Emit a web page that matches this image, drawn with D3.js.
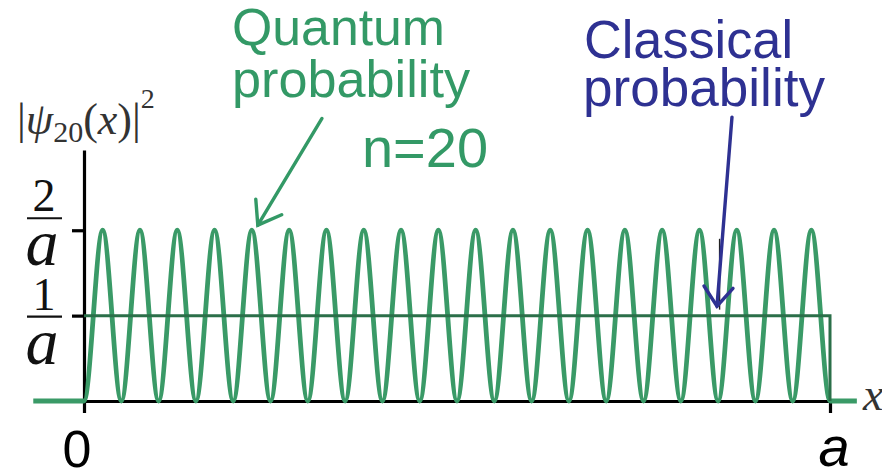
<!DOCTYPE html>
<html>
<head>
<meta charset="utf-8">
<script src="https://cdn.jsdelivr.net/npm/d3@7"></script>
<style>
  html, body { margin: 0; padding: 0; background: #fff; }
  svg { display: block; }
</style>
</head>
<body>
<svg id="chart" width="882" height="472"></svg>
<script>
// Position x in units of a (well spans 0..a), probability density in units of 1/a.
// Quantum probability |psi_20|^2: nodes and peaks of the n = 20 state,
// with the flat zero outside the well at both ends.
const quantumX = [-0.068,
  0, 0.025, 0.05, 0.075, 0.1, 0.125, 0.15, 0.175, 0.2, 0.225,
  0.25, 0.275, 0.3, 0.325, 0.35, 0.375, 0.4, 0.425, 0.45, 0.475,
  0.5, 0.525, 0.55, 0.575, 0.6, 0.625, 0.65, 0.675, 0.7, 0.725,
  0.75, 0.775, 0.8, 0.825, 0.85, 0.875, 0.9, 0.925, 0.95, 0.975,
  1, 1.036];
const quantumY = [0,
  0, 2, 0, 2, 0, 2, 0, 2, 0, 2,
  0, 2, 0, 2, 0, 2, 0, 2, 0, 2,
  0, 2, 0, 2, 0, 2, 0, 2, 0, 2,
  0, 2, 0, 2, 0, 2, 0, 2, 0, 2,
  0, 0];

// Classical probability: uniform 1/a inside the well
const classicalX = [0, 1, 1];
const classicalY = [1, 1, 0];

// Axis ticks
const yTickValues = [1, 2];
const yTickNumerators = ["1", "2"];
const xTickValues = [0, 1];
const xTickLabels = ["0", "a"];

const svg = d3.select("#chart");

const x = d3.scaleLinear().domain([0, 1]).range([84, 830]);
const y = d3.scaleLinear().domain([0, 2.94]).range([401, 150]);

const green = "#3a9a67";
const darkGreen = "#2b6f49";
const blue = "#2e3192";

// Axes
const yAxis = d3.axisLeft(y).tickValues(yTickValues).tickSize(12).tickSizeOuter(0).tickFormat("");
const gy = svg.append("g").attr("transform", `translate(${x(0)},0)`).call(yAxis);
const xAxis = d3.axisBottom(x).tickValues(xTickValues).tickSize(12).tickSizeOuter(0).tickFormat("");
const gx = svg.append("g").attr("transform", `translate(0,${y(0)})`).call(xAxis);
[gy, gx].forEach(g => {
  g.selectAll("path.domain").attr("stroke", "#000").attr("stroke-width", 3.2);
  g.selectAll(".tick line").attr("stroke", "#000").attr("stroke-width", 3.2);
});

// Fraction tick labels on the y axis (k / a)
const fracShift = [1, -12];
yTickValues.forEach((v, i) => {
  const barY = y(v) + fracShift[i];
  const g = svg.append("g").attr("fill", "#111").attr("font-family", "'Liberation Serif', 'DejaVu Serif', serif");
  g.append("line").attr("x1", 27).attr("x2", 62).attr("y1", barY).attr("y2", barY)
    .attr("stroke", "#111").attr("stroke-width", 2.2);
  g.append("text").attr("x", 44).attr("y", barY - 7).attr("text-anchor", "middle")
    .attr("font-size", 46).text(yTickNumerators[i]);
  g.append("text").attr("x", 42).attr("y", barY + 47).attr("text-anchor", "middle")
    .attr("font-size", 66).attr("font-style", "italic").text("a");
});

// x tick labels
svg.append("text").attr("x", x(xTickValues[0]) - 7).attr("y", 467).attr("text-anchor", "middle")
  .attr("font-family", "'Liberation Sans', Arial, sans-serif").attr("font-size", 52).attr("fill", "#000")
  .text(xTickLabels[0]);
svg.append("text").attr("x", x(xTickValues[1]) + 4).attr("y", 466).attr("text-anchor", "middle")
  .attr("font-family", "'Liberation Sans', Arial, sans-serif").attr("font-size", 56).attr("font-style", "italic")
  .attr("fill", "#000").text(xTickLabels[1]);

// Axis titles
svg.append("text").attr("x", 863).attr("y", 410)
  .attr("font-family", "'Liberation Serif', 'DejaVu Serif', serif").attr("font-size", 46)
  .attr("font-style", "italic").attr("fill", "#333").text("x");

const yt = svg.append("text").attr("x", 17).attr("y", 134)
  .attr("font-family", "'Liberation Serif', 'DejaVu Serif', serif").attr("font-size", 44).attr("fill", "#333");
yt.append("tspan").text("|");
yt.append("tspan").attr("font-style", "italic").text("ψ");
yt.append("tspan").attr("font-size", 30).attr("dy", 8).text("20");
yt.append("tspan").attr("dy", -8).text("(");
yt.append("tspan").attr("font-style", "italic").text("x");
yt.append("tspan").text(")|");
yt.append("tspan").attr("font-size", 28).attr("dy", -26).text("2");

// Quantum probability curve
const qLine = d3.line()
  .x((d, i) => x(quantumX[i]))
  .y(d => y(d))
  .curve(d3.curveMonotoneX);
svg.append("path").datum(quantumY).attr("d", qLine)
  .attr("fill", "none").attr("stroke", green).attr("stroke-width", 4.8)
  .attr("stroke-linejoin", "round");

// Classical probability (uniform)
const cLine = d3.line().x((d, i) => x(classicalX[i])).y(d => y(d));
svg.append("path").datum(classicalY).attr("d", cLine)
  .attr("fill", "none").attr("stroke", darkGreen).attr("stroke-width", 3);

// Annotation text
const sans = "'Liberation Sans', Arial, sans-serif";
function label(txt, px, py, size, len, color) {
  svg.append("text").attr("x", px).attr("y", py).attr("font-family", sans)
    .attr("font-size", size).attr("fill", color)
    .attr("textLength", len).attr("lengthAdjust", "spacingAndGlyphs").text(txt);
}
label("Quantum", 232, 45, 52, 213, "#339966");
label("probability", 232, 97, 52, 238, "#339966");
label("n=20", 362, 167, 56, 126, "#339966");
label("Classical", 584, 58, 54, 209, blue);
label("probability", 583, 106, 54, 242, blue);

// Arrows pointing at the curves
function arrow(x0, y0, x1, y1, color, head, spread) {
  const [ax, ay, bx, by] = [x(x0), y(y0), x(x1), y(y1)];
  svg.append("line").attr("x1", ax).attr("y1", ay).attr("x2", bx).attr("y2", by)
    .attr("stroke", color).attr("stroke-width", 3.4).attr("stroke-linecap", "round");
  const ang = Math.atan2(ay - by, ax - bx);
  const pts = [ang - spread, ang + spread].map(a => [bx + head * Math.cos(a), by + head * Math.sin(a)]);
  svg.append("path").attr("d", `M${pts[0]}L${bx},${by}L${pts[1]}`)
    .attr("fill", "none").attr("stroke", color).attr("stroke-width", 3.4)
    .attr("stroke-linecap", "round").attr("stroke-linejoin", "miter");
}
// thin guide behind the classical arrow
svg.append("line").attr("x1", x(0.852)).attr("x2", x(0.852)).attr("y1", y(1.9)).attr("y2", y(1.07))
  .attr("stroke", "#222").attr("stroke-width", 1.4);
arrow(0.319, 3.31, 0.233, 2.06, "#339966", 26, 0.62);
arrow(0.8686, 3.325, 0.8485, 1.11, blue, 24, 0.65);
</script>
</body>
</html>
